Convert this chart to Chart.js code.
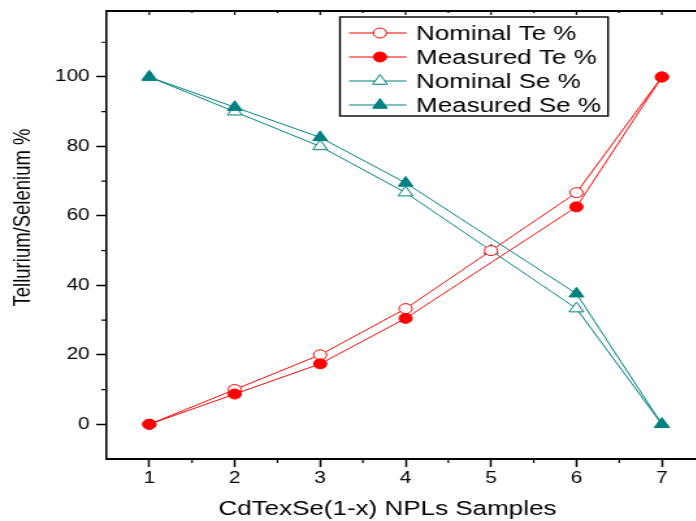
<!DOCTYPE html>
<html>
<head>
<meta charset="utf-8">
<title>Tellurium / Selenium content</title>
<script src="https://cdn.jsdelivr.net/npm/chart.js@4.4.1/dist/chart.umd.min.js"></script>
<style>
    html, body { margin: 0; padding: 0; background: #fff; overflow: hidden; }
    /* the source figure is stretched horizontally, so the whole canvas is too */
    #wrap { width: 552px; height: 521px; transform: scaleX(1.3); transform-origin: 0 0; }
</style>
</head>
<body>
<div id="wrap"><canvas id="chart" width="552" height="521"></canvas></div>
<script>
const samples = [1, 2, 3, 4, 5, 6, 7];
const nominalTe = [0, 10, 20, 33.3, 50, 66.7, 100];
const measuredTe = [0, 8.7, 17.4, 30.5, null, 62.6, 100];
const nominalSe = [100, 90, 80, 66.7, 50, 33.3, 0];
const measuredSe = [100, 91.3, 82.6, 69.5, null, 37.6, 0];

const xTicks = [1, 2, 3, 4, 5, 6, 7];
const xMinor = [1.5, 2.5, 3.5, 4.5, 5.5, 6.5];
const yTicks = [0, 20, 40, 60, 80, 100];
const yMinor = [10, 30, 50, 70, 90, 110];

const xTitle = 'CdTexSe(1-x) NPLs Samples';
const yTitle = 'Tellurium/Selenium %';

const FONT = "'Liberation Sans', Arial, Helvetica, sans-serif";
const RED = '#ff0000';
const TEAL = '#008080';

function pts(ys) {
    return samples.map((x, i) => ({ x: x, y: ys[i] }));
}

// small marker painter for the legend (same shapes as the points)
function drawMarker(ctx, style, r, x, y, fill, stroke) {
    ctx.beginPath();
    if (style === 'triangle') {
        let rad = 0;
        ctx.moveTo(x + Math.sin(rad) * r, y - Math.cos(rad) * r);
        rad += 2 * Math.PI / 3;
        ctx.lineTo(x + Math.sin(rad) * r, y - Math.cos(rad) * r);
        rad += 2 * Math.PI / 3;
        ctx.lineTo(x + Math.sin(rad) * r, y - Math.cos(rad) * r);
        ctx.closePath();
    } else {
        ctx.arc(x, y, r, 0, Math.PI * 2);
    }
    ctx.fillStyle = fill;
    ctx.fill();
    ctx.lineWidth = 1;
    ctx.strokeStyle = stroke;
    ctx.stroke();
}

const framePlugin = {
    id: 'frame',
    afterDraw(chart) {
        const { ctx, chartArea: a, scales: { x, y } } = chart;
        ctx.save();
        ctx.strokeStyle = '#000';

        // top + right axis lines
        ctx.lineWidth = 2;
        ctx.beginPath();
        ctx.moveTo(a.left, a.top);
        ctx.lineTo(a.right, a.top);
        ctx.stroke();
        ctx.lineWidth = 1.5;
        ctx.beginPath();
        ctx.moveTo(a.right, a.top);
        ctx.lineTo(a.right, a.bottom);
        ctx.stroke();

        // minor ticks out, mirror ticks in
        ctx.lineWidth = 1.2;
        ctx.beginPath();
        xMinor.forEach(v => {
            const px = x.getPixelForValue(v);
            ctx.moveTo(px, a.bottom);
            ctx.lineTo(px, a.bottom + 4);
            ctx.moveTo(px, a.top);
            ctx.lineTo(px, a.top + 2);
        });
        xTicks.forEach(v => {
            const px = x.getPixelForValue(v);
            ctx.moveTo(px, a.top);
            ctx.lineTo(px, a.top + 4);
        });
        yMinor.forEach(v => {
            const py = y.getPixelForValue(v);
            ctx.moveTo(a.left, py);
            ctx.lineTo(a.left - 4, py);
        });
        ctx.stroke();

        // axis titles
        ctx.fillStyle = '#000';
        ctx.textAlign = 'center';
        ctx.textBaseline = 'middle';
        ctx.font = '20px ' + FONT;
        ctx.fillText(xTitle, 298, 509);
        ctx.save();
        ctx.translate(18, 217.5);
        ctx.rotate(-Math.PI / 2);
        ctx.font = '18.5px ' + FONT;
        ctx.fillText(yTitle, 0, 0);
        ctx.restore();

        // legend box
        const box = { left: 261.5, top: 17, right: 467.7, bottom: 116 };
        ctx.fillStyle = '#fff';
        ctx.fillRect(box.left, box.top, box.right - box.left, box.bottom - box.top);
        ctx.lineWidth = 1.4;
        ctx.strokeStyle = '#000';
        ctx.strokeRect(box.left, box.top, box.right - box.left, box.bottom - box.top);

        const rows = [33, 57, 81, 105];
        chart.data.datasets.forEach((ds, i) => {
            const ry = rows[i];
            ctx.strokeStyle = ds.borderColor;
            ctx.lineWidth = 1;
            ctx.beginPath();
            ctx.moveTo(268.5, ry);
            ctx.lineTo(312.8, ry);
            ctx.stroke();
            drawMarker(ctx, ds.pointStyle, ds.pointRadius, 292.3, ry, ds.pointBackgroundColor, ds.borderColor);
            ctx.fillStyle = '#000';
            ctx.textAlign = 'left';
            ctx.font = '20px ' + FONT;
            ctx.fillText(ds.label, 320, ry + 1);
        });
        ctx.restore();
    }
};

new Chart(document.getElementById('chart'), {
    type: 'line',
    data: {
        datasets: [
            {
                label: 'Nominal Te %',
                data: pts(nominalTe),
                borderColor: RED,
                borderWidth: 1,
                pointStyle: 'circle',
                pointRadius: 5,
                pointBorderWidth: 1,
                pointBackgroundColor: '#fff',
                order: 1
            },
            {
                label: 'Measured Te %',
                data: pts(measuredTe),
                borderColor: RED,
                borderWidth: 1,
                pointStyle: 'circle',
                pointRadius: 5,
                pointBorderWidth: 1,
                pointBackgroundColor: RED,
                spanGaps: true,
                order: 0
            },
            {
                label: 'Nominal Se %',
                data: pts(nominalSe),
                borderColor: TEAL,
                borderWidth: 1,
                pointStyle: 'triangle',
                pointRadius: 6.5,
                pointBorderWidth: 1,
                pointBackgroundColor: '#fff',
                order: 1
            },
            {
                label: 'Measured Se %',
                data: pts(measuredSe),
                borderColor: TEAL,
                borderWidth: 1,
                pointStyle: 'triangle',
                pointRadius: 6.5,
                pointBorderWidth: 1,
                pointBackgroundColor: TEAL,
                spanGaps: true,
                order: 0
            }
        ]
    },
    options: {
        responsive: false,
        animation: false,
        devicePixelRatio: 1,
        layout: { padding: { top: 11, right: 10, left: 0, bottom: 0 } },
        plugins: {
            legend: { display: false },
            tooltip: { enabled: false }
        },
        scales: {
            x: {
                type: 'linear',
                min: 0.5,
                max: 7.5,
                afterBuildTicks: s => { s.ticks = xTicks.map(v => ({ value: v })); },
                afterFit: s => { s.height = 62; s.paddingLeft = 0; s.paddingRight = 0; },
                grid: { drawOnChartArea: false, tickLength: 8, tickColor: '#000', tickWidth: 1.5 },
                border: { color: '#000', width: 2 },
                ticks: { color: '#000', font: { family: FONT, size: 16 }, padding: 2, maxRotation: 0 }
            },
            y: {
                type: 'linear',
                min: -10,
                max: 119,
                afterBuildTicks: s => { s.ticks = yTicks.map(v => ({ value: v })); },
                // labels never sit at the ends, so drop the end padding
                afterFit: s => { s.width = 82; s.paddingTop = 0; s.paddingBottom = 0; },
                grid: { drawOnChartArea: false, tickLength: 8, tickColor: '#000', tickWidth: 1.5 },
                border: { color: '#000', width: 1.6 },
                ticks: { color: '#000', font: { family: FONT, size: 16 }, padding: 5 }
            }
        }
    },
    plugins: [framePlugin]
});
</script>
</body>
</html>
